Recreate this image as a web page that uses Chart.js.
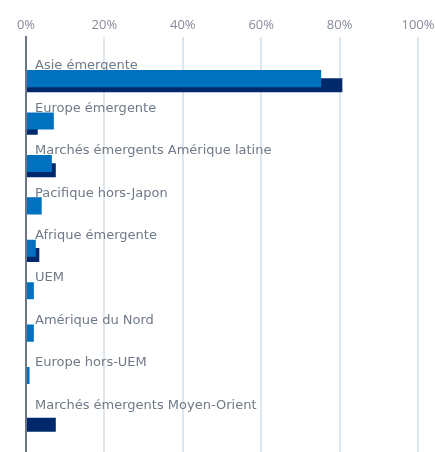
<!DOCTYPE html>
<html>
<head>
<meta charset="utf-8">
<script src="https://cdn.jsdelivr.net/npm/chart.js@4/dist/chart.umd.min.js"></script>
<style>
  body { margin: 0; background: #fff; overflow: hidden; }
  #wrap { width: 435px; height: 469px; }
</style>
</head>
<body>
<div id="wrap"><canvas id="myChart"></canvas></div>
<script>
const categories = [
    'Asie émergente',
    'Europe émergente',
    'Marchés émergents Amérique latine',
    'Pacifique hors-Japon',
    'Afrique émergente',
    'UEM',
    'Amérique du Nord',
    'Europe hors-UEM',
    'Marchés émergents Moyen-Orient'
];
const seriesLight = [75.3, 7.1, 6.6, 4.0, 2.5, 2.0, 2.0, 0.9, 0];
const seriesDark = [80.7, 3.0, 7.6, 0, 3.4, 0, 0, 0, 7.6];
const xTicks = [0, 20, 40, 60, 80, 100];

const labelColor = '#6f7987';
const tickColor = '#868d99';

function toPoints(values) {
    return values.map((v, i) => ({ x: v, y: i }));
}

var ctx = document.getElementById('myChart').getContext('2d');
new Chart(ctx, {
    type: 'bar',
    data: {
        datasets: [{
            label: 'A',
            data: toPoints(seriesLight),
            backgroundColor: '#0071bf',
            categoryPercentage: 0.317,
            barPercentage: 2.54,
            borderWidth: 0
        }, {
            label: 'B',
            data: toPoints(seriesDark),
            backgroundColor: '#00286a',
            categoryPercentage: 0.317,
            barPercentage: 2.09,
            borderWidth: 0
        }]
    },
    options: {
        indexAxis: 'y',
        responsive: true,
        maintainAspectRatio: false,
        animation: false,
        layout: {
            padding: { left: 8, right: 17, top: 13.4, bottom: 0 }
        },
        plugins: {
            legend: { display: false },
            tooltip: { enabled: false }
        },
        scales: {
            x: {
                type: 'linear',
                position: 'top',
                min: 0,
                max: 100,
                afterBuildTicks: (axis) => {
                    axis.ticks = xTicks.map(v => ({ value: v }));
                },
                // let the "100%" label hang into the right padding
                afterFit: (axis) => {
                    axis.paddingRight = 0;
                },
                ticks: {
                    padding: 4,
                    color: tickColor,
                    font: { family: "'Open Sans', sans-serif", size: 13 },
                    callback: (v) => v + '%'
                },
                grid: {
                    color: '#dde7f0',
                    lineWidth: 2,
                    drawTicks: false
                },
                border: { display: false }
            },
            y: {
                type: 'linear',
                reverse: true,
                offset: false,
                min: -1.06,
                max: 8.727,
                bounds: 'data',
                afterBuildTicks: (axis) => {
                    axis.ticks = categories.map((c, i) => ({ value: i }));
                },
                ticks: {
                    autoSkip: false,
                    mirror: true,
                    padding: 9,
                    labelOffset: -16,
                    color: labelColor,
                    font: { family: "'DejaVu Sans', sans-serif", size: 13 },
                    callback: (v) => categories[v] ?? ''
                },
                grid: { display: false, drawTicks: false },
                border: { display: true, color: '#6b7584', width: 2 }
            }
        }
    }
});
</script>
</body>
</html>
